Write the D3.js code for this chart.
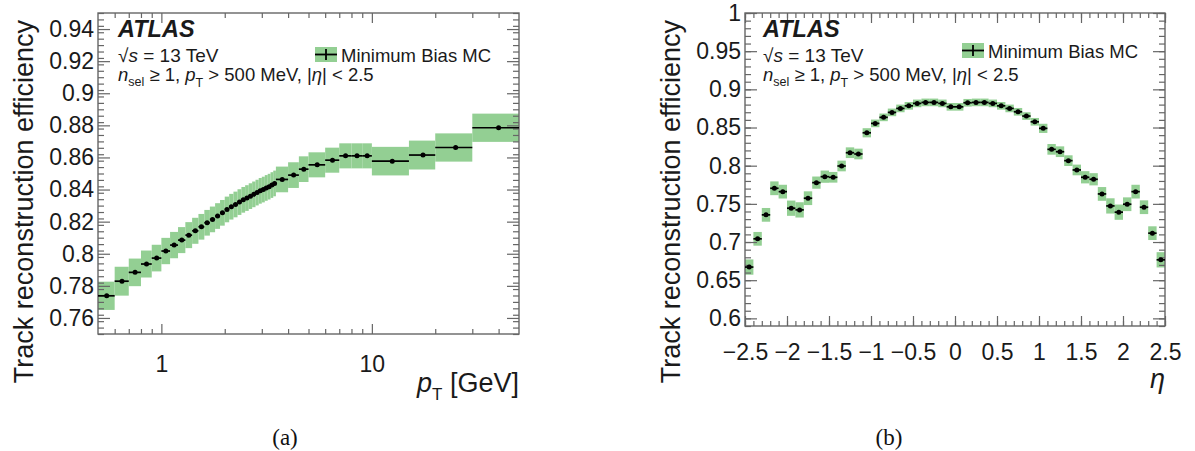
<!DOCTYPE html>
<html>
<head>
<meta charset="utf-8">
<script src="https://cdn.jsdelivr.net/npm/d3@7"></script>
<style>
  body { margin: 0; background: #fff; }
  svg { display: block; font-family: "Liberation Sans", Arial, sans-serif; }
</style>
</head>
<body>
<svg id="fig" width="1195" height="451"></svg>
<script>
// ---- panel (a): efficiency vs pT ----
const ptEdges = [0.5, 0.6, 0.7, 0.8, 0.9, 1.0, 1.1, 1.2, 1.3, 1.4, 1.5, 1.6, 1.7, 1.8, 1.9,
  2.0, 2.1, 2.2, 2.3, 2.4, 2.5, 2.6, 2.7, 2.8, 2.9, 3.0, 3.1, 3.2, 3.3, 3.4, 3.5,
  4.0, 4.5, 5, 6, 7, 8, 9, 10, 15, 20, 30, 50];
const ptEff = [0.7738, 0.7829, 0.7884, 0.7936, 0.7973, 0.8017, 0.8054, 0.8085, 0.8116, 0.8143,
  0.8168, 0.8193, 0.8214, 0.8235, 0.8255, 0.8276, 0.8293, 0.8307, 0.8322, 0.8336,
  0.8347, 0.8359, 0.8370, 0.8381, 0.8392, 0.8400, 0.8410, 0.8418, 0.8428, 0.8438,
  0.8463, 0.8490, 0.8527, 0.8554, 0.8583, 0.8610, 0.8610, 0.8610, 0.8577, 0.8615,
  0.8662, 0.8785];
const ptErr = [0.0088, 0.0090, 0.0086, 0.0084, 0.0083, 0.0082, 0.0082, 0.0081, 0.0081, 0.0081,
  0.0080, 0.0080, 0.0080, 0.0080, 0.0080, 0.0080, 0.0080, 0.0080, 0.0080, 0.0080,
  0.0080, 0.0080, 0.0080, 0.0080, 0.0080, 0.0080, 0.0080, 0.0080, 0.0080, 0.0080,
  0.0080, 0.0080, 0.0080, 0.0078, 0.0078, 0.0078, 0.0078, 0.0078, 0.0089, 0.0090,
  0.0088, 0.0088];
const ptMajorTicks = [1, 10];
const ptMinorTicks = [0.6, 0.7, 0.8, 0.9, 2, 3, 4, 5, 6, 7, 8, 9, 20, 30, 40];
const effTicksA = [0.76, 0.78, 0.8, 0.82, 0.84, 0.86, 0.88, 0.9, 0.92, 0.94];

// ---- panel (b): efficiency vs eta ----
const etaEdges = [-2.5, -2.4, -2.3, -2.2, -2.1, -2.0, -1.9, -1.8, -1.7, -1.6, -1.5, -1.4, -1.3,
  -1.2, -1.1, -1.0, -0.9, -0.8, -0.7, -0.6, -0.5, -0.4, -0.3, -0.2, -0.1, 0.0, 0.1, 0.2,
  0.3, 0.4, 0.5, 0.6, 0.7, 0.8, 0.9, 1.0, 1.1, 1.2, 1.3, 1.4, 1.5, 1.6, 1.7, 1.8, 1.9,
  2.0, 2.1, 2.2, 2.3, 2.4, 2.5];
const etaEff = [0.6672, 0.7042, 0.7356, 0.7704, 0.7660, 0.7443, 0.7421, 0.7574, 0.7778, 0.7856,
  0.7848, 0.7996, 0.8170, 0.8153, 0.8431, 0.8554, 0.8633, 0.8698, 0.8750, 0.8784,
  0.8816, 0.8829, 0.8829, 0.8816, 0.8771, 0.8771, 0.8824, 0.8829, 0.8829, 0.8816,
  0.8784, 0.8750, 0.8706, 0.8650, 0.8575, 0.8489, 0.8214, 0.8183, 0.8066, 0.7944,
  0.7848, 0.7822, 0.7630, 0.7473, 0.7391, 0.7495, 0.7660, 0.7456, 0.7116, 0.6767];
const etaErr = [0.010, 0.009, 0.009, 0.009, 0.009, 0.010, 0.010, 0.009, 0.008, 0.008,
  0.007, 0.007, 0.007, 0.007, 0.006, 0.005, 0.005, 0.005, 0.005, 0.005,
  0.005, 0.005, 0.005, 0.005, 0.005, 0.005, 0.005, 0.005, 0.005, 0.005,
  0.005, 0.005, 0.005, 0.005, 0.005, 0.006, 0.007, 0.007, 0.007, 0.007,
  0.008, 0.008, 0.009, 0.010, 0.010, 0.009, 0.009, 0.009, 0.009, 0.010];
const etaMajorTicks = [-2.5, -2, -1.5, -1, -0.5, 0, 0.5, 1, 1.5, 2, 2.5];
const effTicksB = [0.6, 0.65, 0.7, 0.75, 0.8, 0.85, 0.9, 0.95, 1];

const bandColor = "#93cf93";
const frameColor = "#666";
const textColor = "#1a1a1a";

const svg = d3.select("#fig");

const panels = [
  {
    edges: ptEdges, eff: ptEff, err: ptErr,
    x: d3.scaleLog().domain([0.5, 50]).range([98, 519]),
    y: d3.scaleLinear().domain([0.75, 0.95]).range([334, 13]),
    xMajor: ptMajorTicks, xMinor: ptMinorTicks,
    xFmt: d => String(d), xPad: 22,
    yMajor: effTicksA, yMinor: d3.range(0.75, 0.9501, 0.004),
    info: 118, legend: { x: 315, y: 47 },
    ytitleX: 33, xtitleY: 392,
    xtitle: "pt", label: "(a)", labelX: 285
  },
  {
    edges: etaEdges, eff: etaEff, err: etaErr,
    x: d3.scaleLinear().domain([-2.5, 2.5]).range([745, 1165]),
    y: d3.scaleLinear().domain([0.59, 1.0]).range([326, 13]),
    xMajor: etaMajorTicks, xMinor: d3.range(-2.5, 2.501, 0.1),
    xFmt: d => (d < 0 ? "\u2212" + Math.abs(d) : String(d)), xPad: 18,
    yMajor: effTicksB, yMinor: d3.range(0.59, 1.0001, 0.01),
    info: 763, legend: { x: 962, y: 43 },
    ytitleX: 680, xtitleY: 388,
    xtitle: "eta", label: "(b)", labelX: 889
  }
];

panels.forEach(p => drawPanel(p));

function drawPanel(p) {
  const g = svg.append("g");
  const [x0, x1] = p.x.range();
  const [yb, yt] = p.y.range();
  const lo = p.edges.slice(0, -1);
  const hi = p.edges.slice(1);
  const bins = p.eff.map((v, i) => ({ lo: lo[i], hi: hi[i], v: v, e: p.err[i] }));

  // systematic band
  g.append("g").selectAll("rect").data(bins).join("rect")
    .attr("x", d => p.x(d.lo))
    .attr("width", d => p.x(d.hi) - p.x(d.lo))
    .attr("y", d => p.y(d.v + d.e))
    .attr("height", d => p.y(d.v - d.e) - p.y(d.v + d.e))
    .attr("fill", bandColor);

  // axes (ticks point inwards, ROOT style)
  const fs = 23;
  const bottom = g.append("g").attr("transform", `translate(0,${yb})`);
  bottom.call(d3.axisBottom(p.x).tickValues(p.xMinor).tickSize(-5).tickFormat(""));
  bottom.append("g").call(d3.axisBottom(p.x).tickValues(p.xMajor).tickSize(-10).tickPadding(p.xPad).tickFormat(p.xFmt));
  const top = g.append("g").attr("transform", `translate(0,${yt})`);
  top.call(d3.axisTop(p.x).tickValues(p.xMinor).tickSize(-5).tickFormat(""));
  top.append("g").call(d3.axisTop(p.x).tickValues(p.xMajor).tickSize(-10).tickFormat(""));
  const left = g.append("g").attr("transform", `translate(${x0},0)`);
  left.call(d3.axisLeft(p.y).tickValues(p.yMinor).tickSize(-6).tickFormat(""));
  left.append("g").call(d3.axisLeft(p.y).tickValues(p.yMajor).tickSize(-12).tickPadding(4)
    .tickFormat(d => String(+d.toFixed(2))));
  const right = g.append("g").attr("transform", `translate(${x1},0)`);
  right.call(d3.axisRight(p.y).tickValues(p.yMinor).tickSize(-6).tickFormat(""));
  right.append("g").call(d3.axisRight(p.y).tickValues(p.yMajor).tickSize(-12).tickFormat(""));

  g.selectAll(".domain").remove();
  g.selectAll(".tick line").attr("stroke", frameColor).attr("stroke-width", 1.2);
  g.selectAll(".tick text").attr("font-size", fs).attr("font-family", "Liberation Sans, Arial, sans-serif")
    .attr("fill", textColor);

  g.append("rect")
    .attr("x", x0).attr("y", yt).attr("width", x1 - x0).attr("height", yb - yt)
    .attr("fill", "none").attr("stroke", frameColor).attr("stroke-width", 1.4);

  // points with bin-width bars
  const pts = g.append("g");
  pts.selectAll("line").data(bins).join("line")
    .attr("x1", d => p.x(d.lo)).attr("x2", d => p.x(d.hi))
    .attr("y1", d => p.y(d.v)).attr("y2", d => p.y(d.v))
    .attr("stroke", "#000").attr("stroke-width", 1.7);
  pts.selectAll("circle").data(bins).join("circle")
    .attr("cx", d => p.x((d.lo + d.hi) / 2)).attr("cy", d => p.y(d.v))
    .attr("r", 2.5).attr("fill", "#000");

  // ATLAS label and selection text
  const info = g.append("g").attr("fill", textColor);
  info.append("text").attr("x", p.info).attr("y", 37)
    .attr("font-size", 23.5).attr("font-weight", "bold").attr("font-style", "italic").text("ATLAS");
  const l2 = info.append("text").attr("x", p.info).attr("y", 62).attr("font-size", 19);
  l2.append("tspan").text("\u221A");
  l2.append("tspan").attr("font-style", "italic").text("s");
  l2.append("tspan").text(" = 13 TeV");
  const l3 = info.append("text").attr("x", p.info).attr("y", 81).attr("font-size", 18.5);
  l3.append("tspan").attr("font-style", "italic").text("n");
  l3.append("tspan").attr("font-size", 12.5).attr("dy", 5).text("sel");
  l3.append("tspan").attr("dy", -5).text(" \u2265 1, ");
  l3.append("tspan").attr("font-style", "italic").text("p");
  l3.append("tspan").attr("font-size", 12.5).attr("dy", 6).text("T");
  l3.append("tspan").attr("dy", -6).text(" > 500 MeV, |");
  l3.append("tspan").attr("font-style", "italic").text("\u03B7");
  l3.append("tspan").text("| < 2.5");

  // legend
  const lg = g.append("g").attr("transform", `translate(${p.legend.x},${p.legend.y})`);
  lg.append("rect").attr("width", 22).attr("height", 15).attr("fill", bandColor);
  lg.append("line").attr("x1", 0).attr("x2", 22).attr("y1", 7.5).attr("y2", 7.5)
    .attr("stroke", "#000").attr("stroke-width", 1.8);
  lg.append("line").attr("x1", 11).attr("x2", 11).attr("y1", 2).attr("y2", 13)
    .attr("stroke", "#000").attr("stroke-width", 1.8);
  lg.append("text").attr("x", 26).attr("y", 14.5).attr("font-size", 18.5).attr("fill", textColor)
    .text("Minimum Bias MC");

  // axis titles
  g.append("text")
    .attr("transform", `translate(${p.ytitleX},${yt + 7}) rotate(-90)`)
    .attr("text-anchor", "end").attr("font-size", 27).attr("fill", textColor)
    .text("Track reconstruction efficiency");
  const xt = g.append("text").attr("x", x1).attr("y", p.xtitleY)
    .attr("text-anchor", "end").attr("font-size", 27).attr("fill", textColor);
  if (p.xtitle === "pt") {
    xt.append("tspan").attr("font-style", "italic").text("p");
    xt.append("tspan").attr("font-size", 17).attr("dy", 8).text("T");
    xt.append("tspan").attr("dy", -8).text(" [GeV]");
  } else {
    xt.append("tspan").attr("font-style", "italic").text("\u03B7");
  }

  // sub-figure caption
  svg.append("text").attr("x", p.labelX).attr("y", 445).attr("text-anchor", "middle")
    .attr("font-family", "Liberation Serif, Times New Roman, serif").attr("font-size", 23)
    .attr("fill", "#111").text(p.label);
}
</script>
</body>
</html>
